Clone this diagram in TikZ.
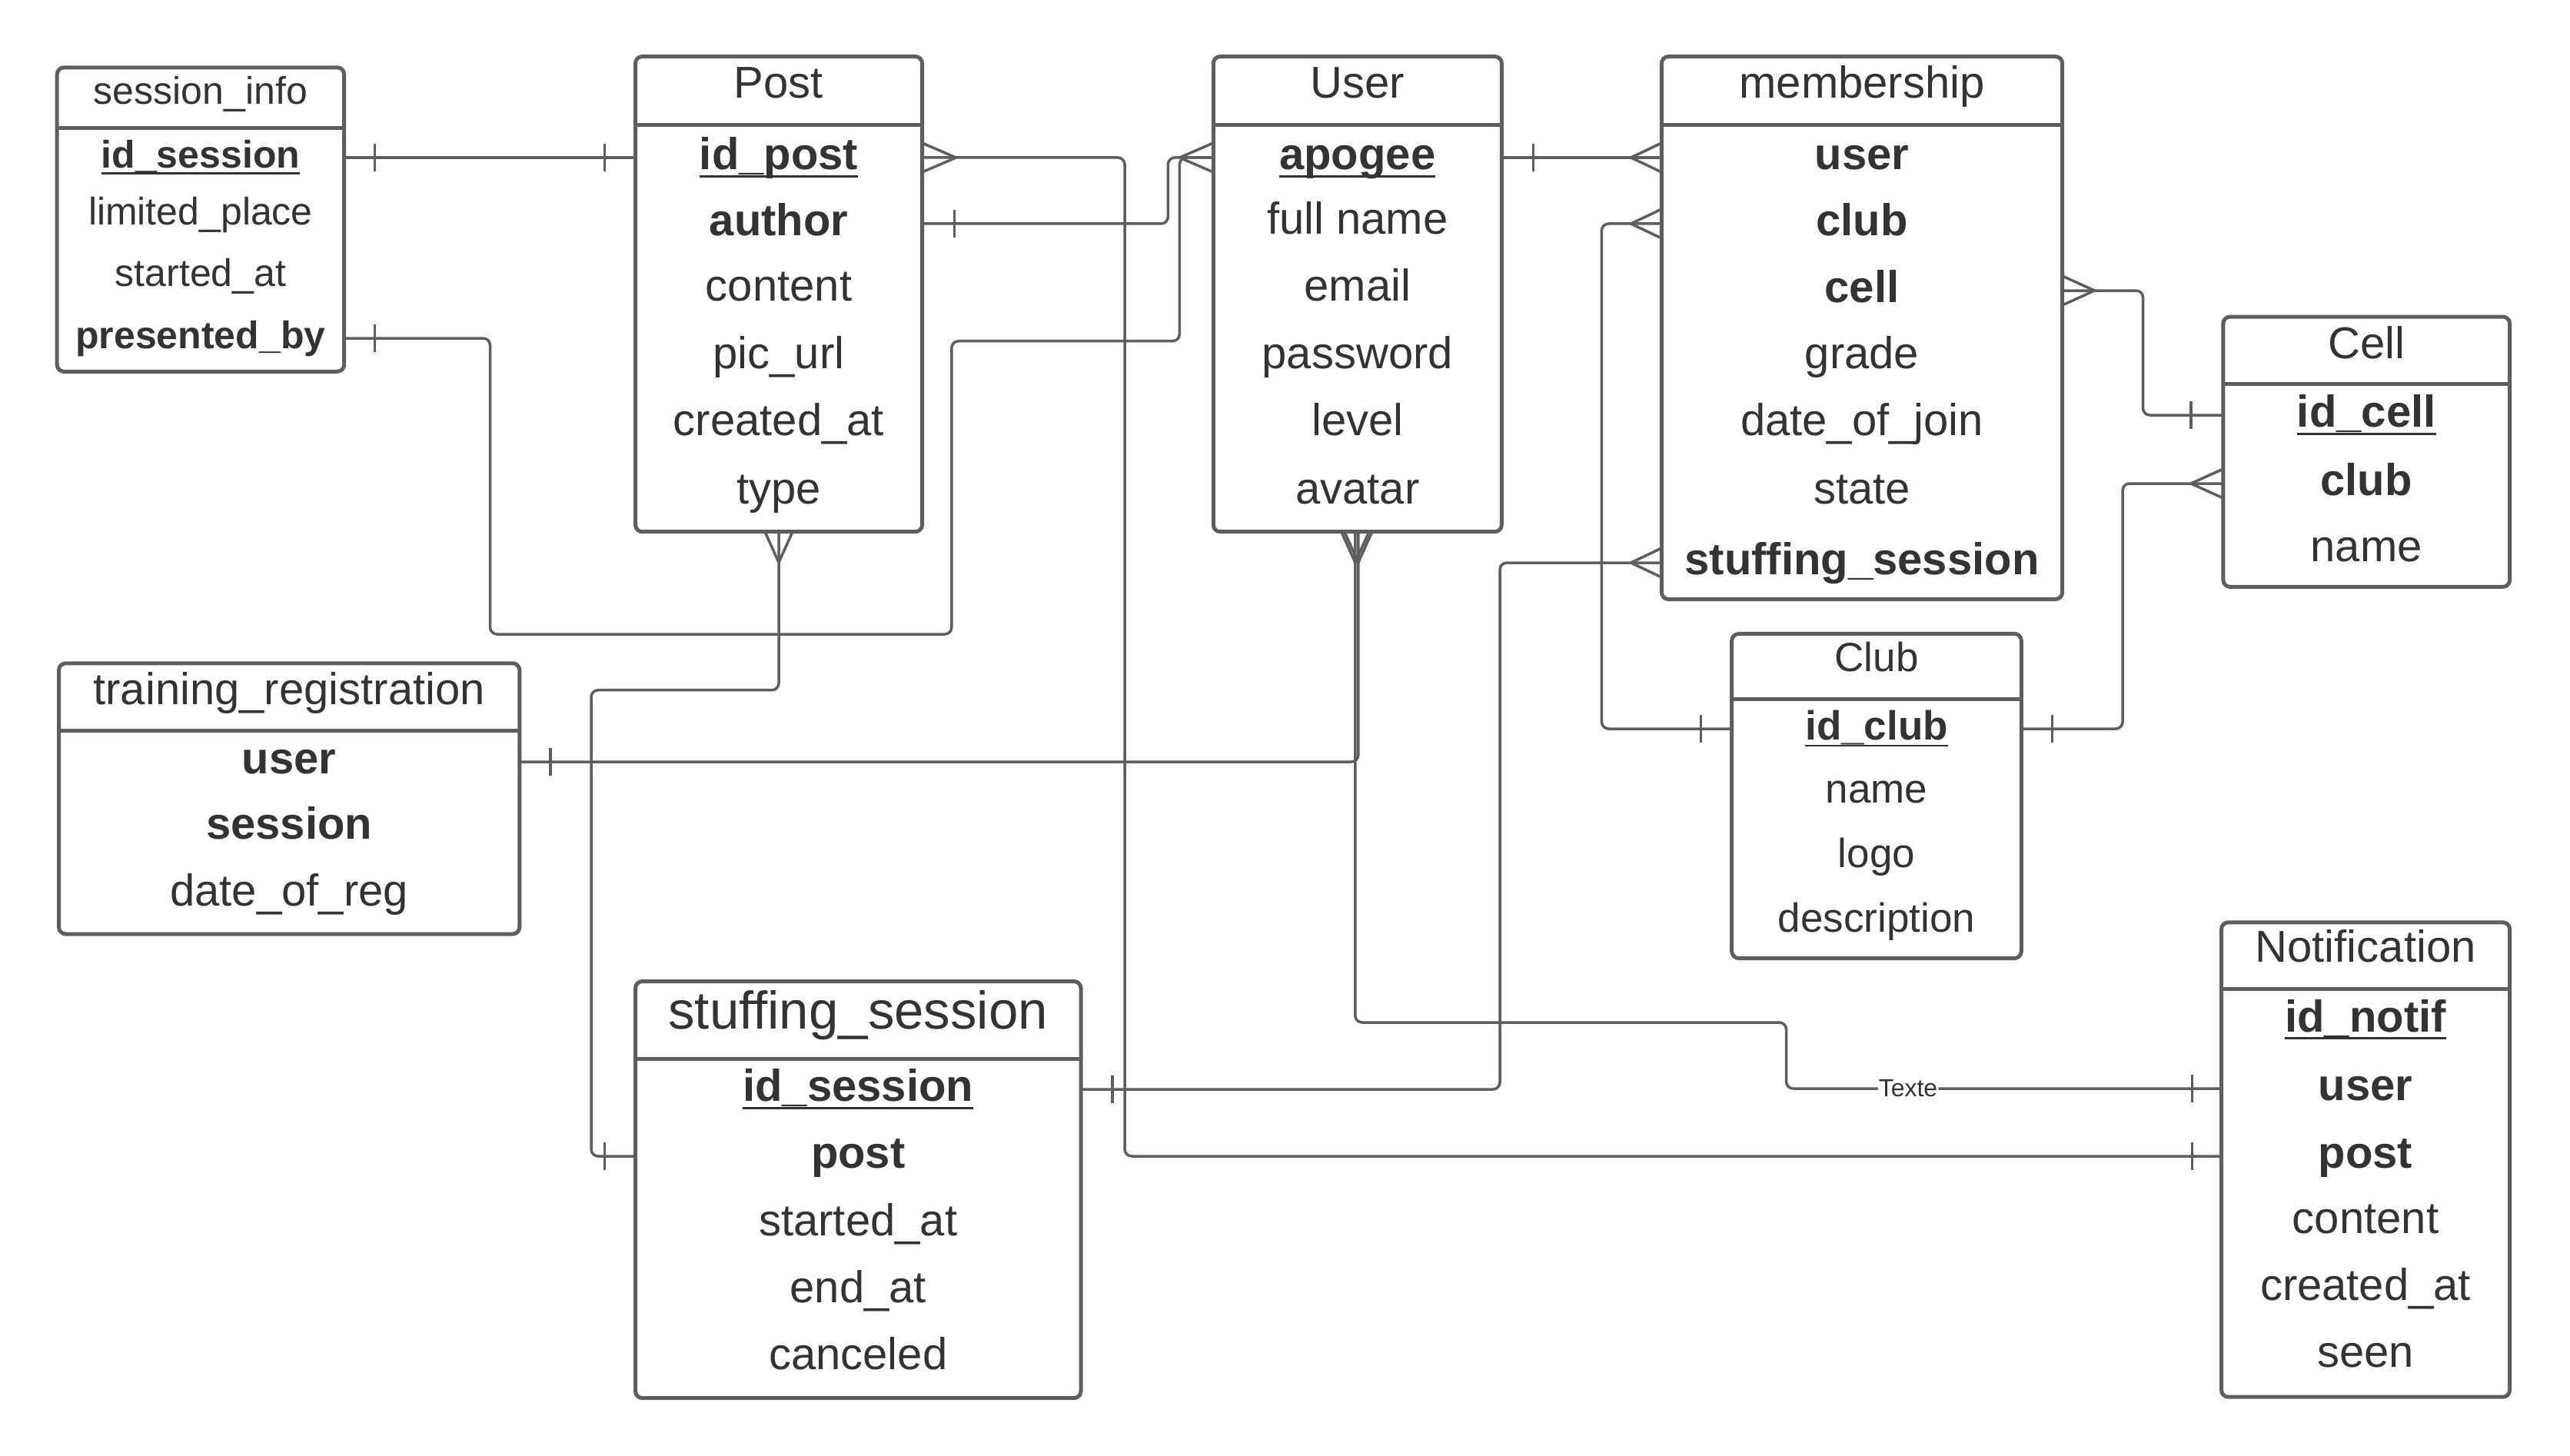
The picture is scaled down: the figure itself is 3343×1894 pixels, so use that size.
\documentclass[tikz,border=0pt]{standalone}
\usepackage{fontspec}
\setmainfont{Liberation Sans}
\usetikzlibrary{calc}
\definecolor{ln}{HTML}{5E5E5E}
\definecolor{tx}{HTML}{333333}
\newcommand\pkey[1]{\setbox0\hbox{\bfseries #1}\rlap{\rule[-0.17em]{\wd0}{0.05em}}\box0}
\newcommand\entbox[6]{\node[ent, minimum width=#4-#2, minimum height=#5-#3] (#1) at (#2,#3) {};
  \draw[hdr] (#1.west |- 0,#6) -- (#1.east |- 0,#6);}
\newcommand\fld[5][fld]{\coordinate (#2y) at (#3.north |- 0,#4); \node[#1] (#2) at (#2y) {#5};}
\newcommand\crowH[2]{\draw[conn] ($#1+(#2,0)$) -- ($#1+(0,-19)$) ($#1+(#2,0)$) -- ($#1+(0,19)$);}
\newcommand\crowV[2]{\draw[conn] ($#1+(0,#2)$) -- ($#1+(-18,0)$) ($#1+(0,#2)$) -- ($#1+(18,0)$);}
\newcommand\tickH[2]{\draw[conn] ($#1+(#2,-18)$) -- ($#1+(#2,18)$);}
\begin{document}
\begin{tikzpicture}[x=1pt,y=-1pt,
  ent/.style={draw=ln,line width=5pt,rounded corners=9pt,anchor=north west,inner sep=0pt,outer sep=0pt},
  hdr/.style={draw=ln,line width=5pt},
  fbase/.style={text=tx,inner sep=0pt,anchor=base},
  fld/.style={fbase,yshift=-15.7pt,font=\fontsize{58}{60}\selectfont},
  fsmall/.style={fbase,yshift=-13.5pt,font=\fontsize{50}{52}\selectfont},
  fclub/.style={fbase,yshift=-14.3pt,font=\fontsize{53}{55}\selectfont},
  fbig/.style={fbase,yshift=-18.6pt,font=\fontsize{69}{71}\selectfont},
  conn/.style={draw=ln,line width=3.5pt,rounded corners=9pt},
  lbl/.style={text=tx,fill=white,inner sep=1pt,font=\fontsize{32}{34}\selectfont}]
\fill[white] (0,0) rectangle (3343,1894);
\useasboundingbox (0,0) rectangle (3343,1894);

% entities
\entbox{si}{74.2}{87.8}{447.7}{483.3}{166.5}
\entbox{po}{826.5}{73.5}{1199.5}{691.7}{162.4}
\entbox{us}{1578.3}{73.5}{1953.3}{691.7}{162.4}
\entbox{me}{2161.4}{73.5}{2682.6}{779.5}{162.4}
\entbox{ce}{2891.8}{412}{3264.6}{763.4}{499.4}
\entbox{cl}{2252.7}{824.4}{2629.3}{1246.5}{909.5}
\entbox{tr}{76.5}{862.8}{675.8}{1215}{950}
\entbox{ss}{826.5}{1276.5}{1406}{1818.6}{1377.7}
\entbox{no}{2889.5}{1199.8}{3264.6}{1817.2}{1286.3}

% session_info
\fld[fsmall]{si0}{si}{121.7}{session\_info}
\fld[fsmall]{si1}{si}{205}{\pkey{id\_session}}
\fld[fsmall]{si2}{si}{279.5}{limited\_place}
\fld[fsmall]{si3}{si}{359}{started\_at}
\fld[fsmall]{si4}{si}{440}{\textbf{presented\_by}}
% Post
\fld{po0}{po}{112}{Post}
\fld{po1}{po}{205}{\pkey{id\_post}}
\fld{po2}{po}{291}{\textbf{author}}
\fld{po3}{po}{376}{content}
\fld{po4}{po}{464}{pic\_url}
\fld{po5}{po}{551}{created\_at}
\fld{po6}{po}{640}{type}
% User
\fld{us0}{us}{112}{User}
\fld{us1}{us}{205}{\pkey{apogee}}
\fld{us2}{us}{289}{full name}
\fld{us3}{us}{376}{email}
\fld{us4}{us}{464}{password}
\fld{us5}{us}{551}{level}
\fld{us6}{us}{640}{avatar}
% membership
\fld{me0}{me}{112}{membership}
\fld{me1}{me}{205}{\textbf{user}}
\fld{me2}{me}{291}{\textbf{club}}
\fld{me3}{me}{378}{\textbf{cell}}
\fld{me4}{me}{464}{grade}
\fld{me5}{me}{551}{date\_of\_join}
\fld{me6}{me}{640}{state}
\fld{me7}{me}{732}{\textbf{stuffing\_session}}
% Cell
\fld{ce0}{ce}{450.6}{Cell}
\fld{ce1}{ce}{540}{\pkey{id\_cell}}
\fld{ce2}{ce}{629}{\textbf{club}}
\fld{ce3}{ce}{714.6}{name}
% Club
\fld[fclub]{cl0}{cl}{859.3}{Club}
\fld[fclub]{cl1}{cl}{948}{\pkey{id\_club}}
\fld[fclub]{cl2}{cl}{1030}{name}
\fld[fclub]{cl3}{cl}{1114}{logo}
\fld[fclub]{cl4}{cl}{1197.7}{description}
% training_registration
\fld{tr0}{tr}{901}{training\_registration}
\fld{tr1}{tr}{991}{\textbf{user}}
\fld{tr2}{tr}{1075.6}{\textbf{session}}
\fld{tr3}{tr}{1162.8}{date\_of\_reg}
% stuffing_session
\fld[fbig]{ss0}{ss}{1319.8}{stuffing\_session}
\fld{ss1}{ss}{1417}{\pkey{id\_session}}
\fld{ss2}{ss}{1504}{\textbf{post}}
\fld{ss3}{ss}{1592}{started\_at}
\fld{ss4}{ss}{1679}{end\_at}
\fld{ss5}{ss}{1766}{canceled}
% Notification
\fld{no0}{no}{1236}{Notification}
\fld{no1}{no}{1326.8}{\pkey{id\_notif}}
\fld{no2}{no}{1416}{\textbf{user}}
\fld{no3}{no}{1504}{\textbf{post}}
\fld{no4}{no}{1588.4}{content}
\fld{no5}{no}{1675.6}{created\_at}
\fld{no6}{no}{1762.8}{seen}

% connectors
% session_info.id_session -- Post.id_post
\draw[conn] (si.east |- si1y) -- (po.west |- po1y);
\tickH{(si.east |- si1y)}{40}
\tickH{(po.west |- po1y)}{-40}
% session_info.presented_by -> User.apogee
\draw[conn] (si.east |- si4y) -| (637.5,825) -| (1237.8,443.7) -| ($(us.west |- us1y)+(-44,0)$) -- (us.west |- us1y);
\tickH{(si.east |- si4y)}{40}
% Post.author -> User.apogee
\draw[conn] (po.east |- po2y) -| ($(us.west |- us1y)+(-59,0)$) -- (us.west |- us1y);
\tickH{(po.east |- po2y)}{42}
\crowH{(us.west |- us1y)}{-44}
% Post.id_post -> Notification.post
\draw[conn] (po.east |- po1y) -| (1463,0 |- no3y) -- (no.west |- no3y);
\crowH{(po.east |- po1y)}{44}
\tickH{(no.west |- no3y)}{-38}
% Post -> stuffing_session.post
\draw[conn] (po.south) |- (769,897.7) |- (ss.west |- ss2y);
\crowV{(po.south)}{40}
\tickH{(ss.west |- ss2y)}{-40}
% User -> training_registration.user
\coordinate (usA) at ($(us.south)+(1,0)$);
\coordinate (usB) at ($(us.south)+(-3,0)$);
\draw[conn] (tr.east |- tr1y) -| (usA);
\tickH{(tr.east |- tr1y)}{40}
\crowV{(usA)}{40}
% User -> Notification.user
\draw[conn] (usB) |- (2323.5,1330) |- (no.west |- no2y) node[lbl,pos=0.64]{Texte};
\crowV{(usB)}{40}
\tickH{(no.west |- no2y)}{-38}
% User.apogee -> membership.user
\draw[conn] (us.east |- us1y) -- (me.west |- me1y);
\tickH{(us.east |- us1y)}{41}
\crowH{(me.west |- me1y)}{-40}
% membership.club -> Club.id_club
\draw[conn] (me.west |- me2y) -| (2083.4,0 |- cl1y) -- (cl.west |- cl1y);
\crowH{(me.west |- me2y)}{-40}
\tickH{(cl.west |- cl1y)}{-40}
% stuffing_session.id_session -> membership.stuffing_session
\draw[conn] (ss.east |- ss1y) -| (1951,0 |- me7y) -- (me.west |- me7y);
\tickH{(ss.east |- ss1y)}{41}
\crowH{(me.west |- me7y)}{-40}
% membership.cell -> Cell.id_cell
\draw[conn] (me.east |- me3y) -| (2787.5,0 |- ce1y) -- (ce.west |- ce1y);
\crowH{(me.east |- me3y)}{42}
\tickH{(ce.west |- ce1y)}{-42}
% Club.id_club -> Cell.club
\draw[conn] (cl.east |- cl1y) -| (2761,0 |- ce2y) -- (ce.west |- ce2y);
\tickH{(cl.east |- cl1y)}{40}
\crowH{(ce.west |- ce2y)}{-42}
\end{tikzpicture}
\end{document}
